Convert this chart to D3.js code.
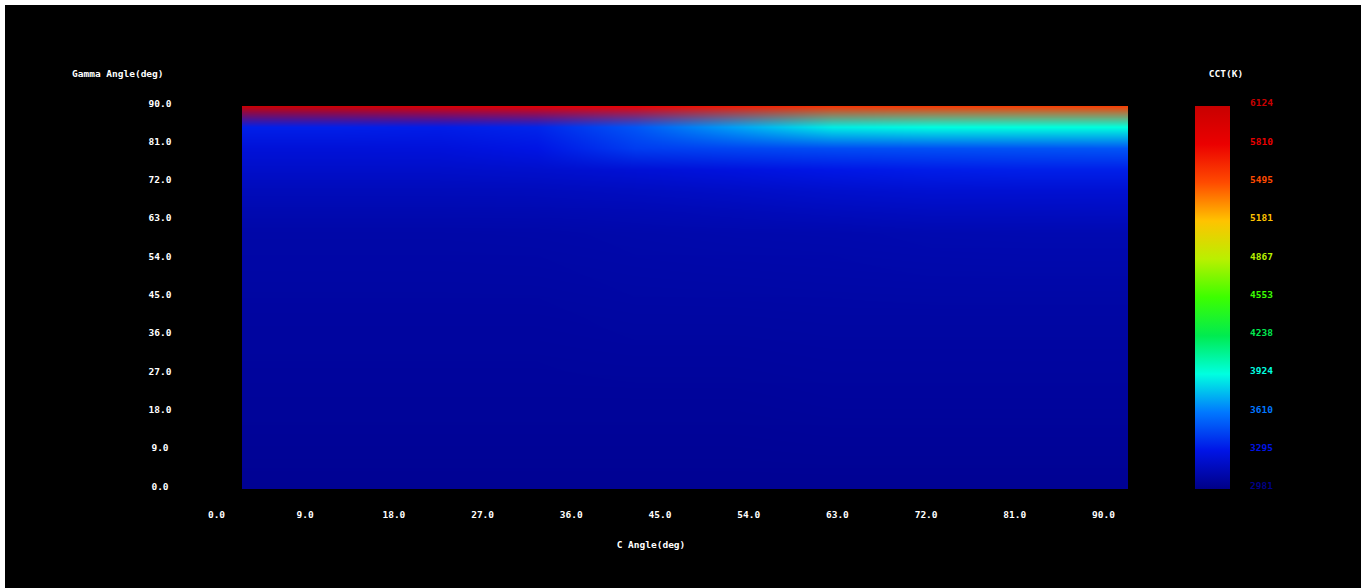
<!DOCTYPE html>
<html>
<head>
<meta charset="utf-8">
<script src="https://cdn.jsdelivr.net/npm/d3@7"></script>
<style>
  body { margin: 0; background: #fff; }
  #chart { position: relative; width: 1366px; height: 588px; }
  #chart svg, #chart canvas { position: absolute; left: 0; top: 0; }
  text { font-family: "DejaVu Sans Mono", monospace; font-size: 9.5px; font-weight: bold; }
</style>
</head>
<body>
<div id="chart"></div>
<script>
// grid of CCT values, rows = gamma angles, columns = C angles
const cAngles = [0, 10, 20, 30, 40, 50, 60, 70, 80, 90]
const gammaAngles = [0, 20, 40, 60, 65, 70, 75, 80, 85, 90]
const cctValues = [
  [3020, 3020, 3020, 3020, 3020, 3020, 3020, 3020, 3020, 3020],
  [3045, 3045, 3045, 3045, 3045, 3045, 3050, 3050, 3050, 3050],
  [3065, 3065, 3065, 3065, 3070, 3070, 3075, 3075, 3075, 3075],
  [3090, 3090, 3090, 3095, 3100, 3105, 3110, 3115, 3120, 3120],
  [3115, 3115, 3115, 3120, 3130, 3140, 3155, 3165, 3170, 3175],
  [3150, 3150, 3150, 3155, 3170, 3190, 3210, 3225, 3230, 3230],
  [3200, 3200, 3200, 3210, 3240, 3270, 3300, 3320, 3330, 3330],
  [3250, 3250, 3255, 3290, 3420, 3450, 3470, 3480, 3490, 3500],
  [3330, 3330, 3320, 3350, 3500, 3700, 3880, 3920, 3930, 3930],
  [6100, 6050, 5950, 5880, 5800, 5700, 5600, 5580, 5560, 5560]
]
const axisTicks = [0, 9, 18, 27, 36, 45, 54, 63, 72, 81, 90]
const cctTicks = [2981, 3295, 3610, 3924, 4238, 4553, 4867, 5181, 5495, 5810, 6124]
const cctColors = ['#000087', '#0014e6', '#0078ff', '#00ffe0', '#00eb50', '#3cff00',
  '#b9f000', '#ffc300', '#ff4b00', '#eb0000', '#c80000']

const W = 1366
const H = 588

const color = d3.scaleLinear().domain(cctTicks).range(cctColors).clamp(true)

const x = d3.scaleLinear().domain([0, 90]).range([242, 1128])
const y = d3.scaleLinear().domain([0, 90]).range([489, 106])
const xLabel = d3.scaleLinear().domain([0, 90]).range([216, 1103])
const yLabel = d3.scaleLinear().domain([0, 90]).range([486, 103])
const barY = d3.scaleLinear().domain([2981, 6124]).range([486, 103])

const svg = d3.select('#chart').append('svg')
  .attr('width', W)
  .attr('height', H)

svg.append('rect')
  .attr('x', 5).attr('y', 5)
  .attr('width', W - 10).attr('height', H - 5)
  .attr('fill', '#000')

// heatmap, drawn on canvas with colour shading between grid nodes
const x0 = Math.round(x(0))
const y0 = Math.round(y(90))
const cw = Math.round(x(90)) - x0
const ch = Math.round(y(0)) - y0

const canvas = d3.select('#chart').append('canvas')
  .attr('width', cw)
  .attr('height', ch)
  .style('left', `${x0}px`)
  .style('top', `${y0}px`)
const ctx = canvas.node().getContext('2d')
const img = ctx.createImageData(cw, ch)

const nodeColors = cctValues.map(row => row.map(v => d3.rgb(color(v))))
const findIdx = (arr, v) => {
  let i = d3.bisectRight(arr, v) - 1
  return Math.max(0, Math.min(arr.length - 2, i))
}

for (let py = 0; py < ch; py++) {
  const g = y.invert(y0 + py + 0.5)
  const j = findIdx(gammaAngles, g)
  const tg = Math.max(0, Math.min(1, (g - gammaAngles[j]) / (gammaAngles[j + 1] - gammaAngles[j])))
  for (let px = 0; px < cw; px++) {
    const c = x.invert(x0 + px + 0.5)
    const i = findIdx(cAngles, c)
    const tc = Math.max(0, Math.min(1, (c - cAngles[i]) / (cAngles[i + 1] - cAngles[i])))
    const a = nodeColors[j][i]
    const b = nodeColors[j][i + 1]
    const d = nodeColors[j + 1][i]
    const e = nodeColors[j + 1][i + 1]
    const k = (py * cw + px) * 4
    for (const [n, ch2] of [[0, 'r'], [1, 'g'], [2, 'b']]) {
      const lo = a[ch2] + (b[ch2] - a[ch2]) * tc
      const hi = d[ch2] + (e[ch2] - d[ch2]) * tc
      img.data[k + n] = lo + (hi - lo) * tg
    }
    img.data[k + 3] = 255
  }
}
ctx.putImageData(img, 0, 0)

// colour bar
const defs = svg.append('defs')
const grad = defs.append('linearGradient')
  .attr('id', 'cbar')
  .attr('x1', 0).attr('x2', 0).attr('y1', 1).attr('y2', 0)
grad.selectAll('stop')
  .data(cctTicks)
  .join('stop')
  .attr('offset', d => (d - cctTicks[0]) / (cctTicks[cctTicks.length - 1] - cctTicks[0]))
  .attr('stop-color', d => color(d))

svg.append('rect')
  .attr('x', 1195)
  .attr('y', 106)
  .attr('width', 35)
  .attr('height', 383)
  .attr('fill', 'url(#cbar)')

svg.append('g')
  .selectAll('text')
  .data(cctTicks)
  .join('text')
  .attr('x', 1250)
  .attr('y', d => barY(d))
  .attr('dy', '0.35em')
  .attr('fill', d => color(d))
  .text(d => d)

// axes
const xAxis = svg.append('g')
  .attr('transform', 'translate(0,515)')
  .call(d3.axisBottom(xLabel).tickValues(axisTicks).tickSize(0).tickFormat(d3.format('.1f')))
xAxis.select('.domain').remove()
xAxis.selectAll('text')
  .attr('y', 0)
  .attr('dy', '0.35em')
  .attr('fill', '#fff')

const yAxis = svg.append('g')
  .attr('transform', 'translate(160,0)')
  .call(d3.axisLeft(yLabel).tickValues(axisTicks).tickSize(0).tickFormat(d3.format('.1f')))
yAxis.select('.domain').remove()
yAxis.selectAll('text')
  .attr('x', 0)
  .attr('text-anchor', 'middle')
  .attr('fill', '#fff')
yAxis.attr('font-size', null).attr('font-family', null)
xAxis.attr('font-size', null).attr('font-family', null)

// titles
svg.append('text')
  .attr('x', 72).attr('y', 74).attr('dy', '0.35em')
  .attr('fill', '#fff')
  .text('Gamma Angle(deg)')

svg.append('text')
  .attr('x', 1226).attr('y', 74).attr('dy', '0.35em')
  .attr('text-anchor', 'middle')
  .attr('fill', '#fff')
  .text('CCT(K)')

svg.append('text')
  .attr('x', 651).attr('y', 545).attr('dy', '0.35em')
  .attr('text-anchor', 'middle')
  .attr('fill', '#fff')
  .text('C Angle(deg)')
</script>
</body>
</html>
